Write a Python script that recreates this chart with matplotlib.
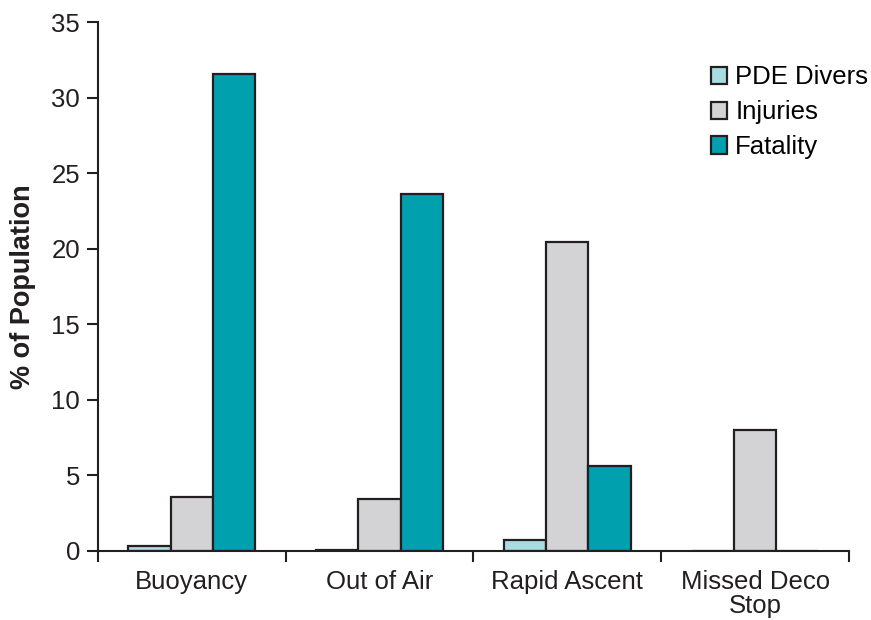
import matplotlib.pyplot as plt
import numpy as np

categories = ['Buoyancy', 'Out of Air', 'Rapid Ascent', 'Missed Deco\nStop']
pde_divers = [0.35, 0.07, 0.73, 0.0]
injuries = [3.6, 3.45, 20.45, 8.0]
fatality = [31.55, 23.65, 5.65, 0.0]

series = [('PDE Divers', pde_divers, '#a9dce0'),
          ('Injuries', injuries, '#d3d3d5'),
          ('Fatality', fatality, '#00a0af')]

plt.rcParams['font.family'] = ['Liberation Sans', 'DejaVu Sans']

fig = plt.figure(figsize=(8.71, 6.2), dpi=100)
ax = fig.add_axes([0.1125, 0.1113, 0.8622, 0.8532])

x = np.arange(len(categories))
width = 0.225
for i, (name, vals, col) in enumerate(series):
    ax.bar(x + (i - 1) * width, vals, width, color=col, edgecolor='#231f20',
           linewidth=1.6, label=name, zorder=2)

ax.set_xlim(-0.5, len(categories) - 0.5)
ax.set_ylim(0, 35)
ax.set_yticks(np.arange(0, 36, 5))

ax.set_xticks(x)
ax.set_xticklabels(categories, fontsize=18.5, color='#231f20', linespacing=1.0)
ax.set_xticks(np.arange(-0.5, len(categories)), minor=True)
ax.tick_params(axis='x', which='major', length=0, pad=14)
ax.tick_params(axis='x', which='minor', length=8, width=1.5, color='#231f20')
ax.tick_params(axis='y', length=8, width=1.5, color='#231f20',
               labelsize=18.5, labelcolor='#231f20', pad=5)

for s in ['top', 'right']:
    ax.spines[s].set_visible(False)
for s in ['left', 'bottom']:
    ax.spines[s].set_linewidth(1.5)
    ax.spines[s].set_color('#231f20')

ax.set_ylabel('% of Population', fontsize=19.5, fontweight='bold',
              color='#231f20', labelpad=11)

leg = ax.legend(loc='upper left', bbox_to_anchor=(0.816, 0.918), frameon=False,
                fontsize=18.5, handlelength=0.65, handleheight=0.65,
                handletextpad=0.3, labelspacing=0.42, borderaxespad=0,
                borderpad=0)

fig.savefig('out.png', dpi=100)
